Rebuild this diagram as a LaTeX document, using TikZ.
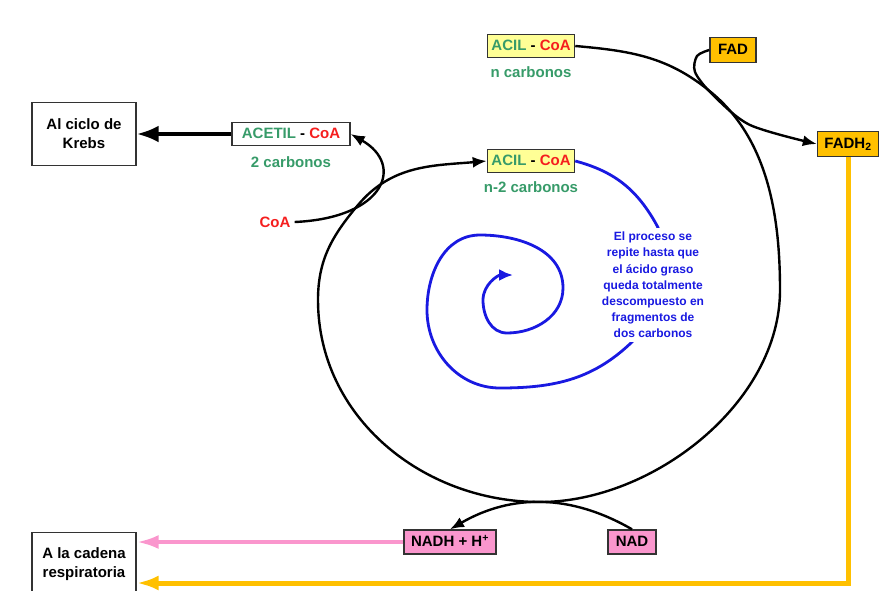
\documentclass[tikz,border=0pt]{standalone}
\usepackage{fontspec}
\setmainfont{Liberation Sans}
\usetikzlibrary{arrows.meta,positioning}
\definecolor{verde}{RGB}{55,155,105}
\definecolor{rojo}{RGB}{245,30,30}
\definecolor{azul}{RGB}{25,25,225}
\definecolor{amarillo}{RGB}{255,192,0}
\definecolor{rosa}{RGB}{250,150,205}
\definecolor{crema}{RGB}{255,255,150}
\begin{document}
\begin{tikzpicture}[x=1pt,y=1pt,font=\fontsize{15}{19}\selectfont\bfseries,
  caja/.style={draw=black!80,line width=1.4pt,inner xsep=4pt,inner ysep=0pt,minimum height=23pt,text height=11pt,text depth=2pt},
  acil/.style={caja,fill=crema},
  fad/.style={caja,fill=amarillo,minimum height=25pt},
  nad/.style={caja,fill=rosa,minimum height=24pt},
  destino/.style={draw=black!80,line width=1.4pt,minimum width=104pt,minimum height=63pt,align=center},
  rotulo/.style={text=verde,inner sep=0pt,text height=11pt,text depth=0pt},
  curva/.style={line width=2.4pt,-{Latex[length=14pt,width=11pt]}}]
  \useasboundingbox (0,0) rectangle (880,-590);
  \node[destino] (krebs) at (84,-134) {Al ciclo de\\Krebs};
  \node[caja,minimum width=118pt] (acetil) at (291,-134) {\textcolor{verde}{ACETIL} - \textcolor{rojo}{CoA}};
  \node[rotulo,below=10pt of acetil] (dos) {2 carbonos};
  \node[text=rojo,inner sep=4pt] (coa) at (275,-222) {CoA};
  \node[acil] (acil1) at (531,-46) {\textcolor{verde}{ACIL} - \textcolor{rojo}{CoA}};
  \node[rotulo,below=8pt of acil1] (ene) {n carbonos};
  \node[acil] (acil2) at (531,-161) {\textcolor{verde}{ACIL} - \textcolor{rojo}{CoA}};
  \node[rotulo,below=8pt of acil2] (menos) {n-2 carbonos};
  \node[fad,minimum width=46pt] (fad) at (733,-50) {FAD};
  \node[fad,minimum width=61pt] (fadh) at (848,-144) {FADH\textsubscript{2}};
  \node[nad,minimum width=92pt] (nadh) at (450,-542) {NADH + H\textsuperscript{+}};
  \node[nad,minimum width=48pt] (nadb) at (632,-542) {NAD};
  \node[destino] (cadena) at (84,-564) {A la cadena\\respiratoria};
  \draw[azul,line width=2.8pt,-{Latex[length=14pt,width=12pt]}] (acil2.east) to[out=-15,in=120] (655,-222)
    to[out=-60,in=45] (635,-339) to[out=-135,in=0] (500,-388) to[out=180,in=-90] (427,-310)
    to[out=90,in=180] (480,-235) to[out=0,in=90] (563,-288) to[out=-90,in=0] (507,-333)
    to[out=180,in=-90] (483,-300) to[out=90,in=180] (513,-275);
  \node[text=azul,fill=white,align=center,inner xsep=2pt,inner ysep=4pt,font=\fontsize{12}{16.2}\selectfont\bfseries] (nota) at (653,-285)
    {El proceso se\\repite hasta que\\el ácido graso\\queda totalmente\\descompuesto en\\fragmentos de\\dos carbonos};
  \draw[curva] (acil1.east) to[out=-5,in=140] (712,-93) to[out=-40,in=90,looseness=0.9] (780,-290)
    to[out=-90,in=0,looseness=0.9] (540,-502) to[out=180,in=-90] (318,-300) to[out=90,in=-130] (358,-205)
    to[out=50,in=185] (acil2.west);
  \draw[curva] plot[smooth] coordinates {(fad.west) (697,-56) (695,-72) (712,-94) (750,-125) (fadh.west)};
  \draw[curva] (coa.east) .. controls (385,-218) and (405,-165) .. (acetil.east);
  \draw[curva] (nadb.north) to[out=150,in=30] (nadh.north);
  \draw[line width=4pt,-{Latex[length=22pt,width=17pt]}] (acetil.west) -- (krebs.east);
  \draw[rosa,line width=4pt,-{Latex[length=22pt,width=14pt]}] (nadh.west) -- (nadh.west -| cadena.east);
  \draw[amarillo,line width=5pt,-{Latex[length=22pt,width=15pt]}] (fadh.south) |- ([yshift=-19pt]cadena.east);
\end{tikzpicture}
\end{document}
